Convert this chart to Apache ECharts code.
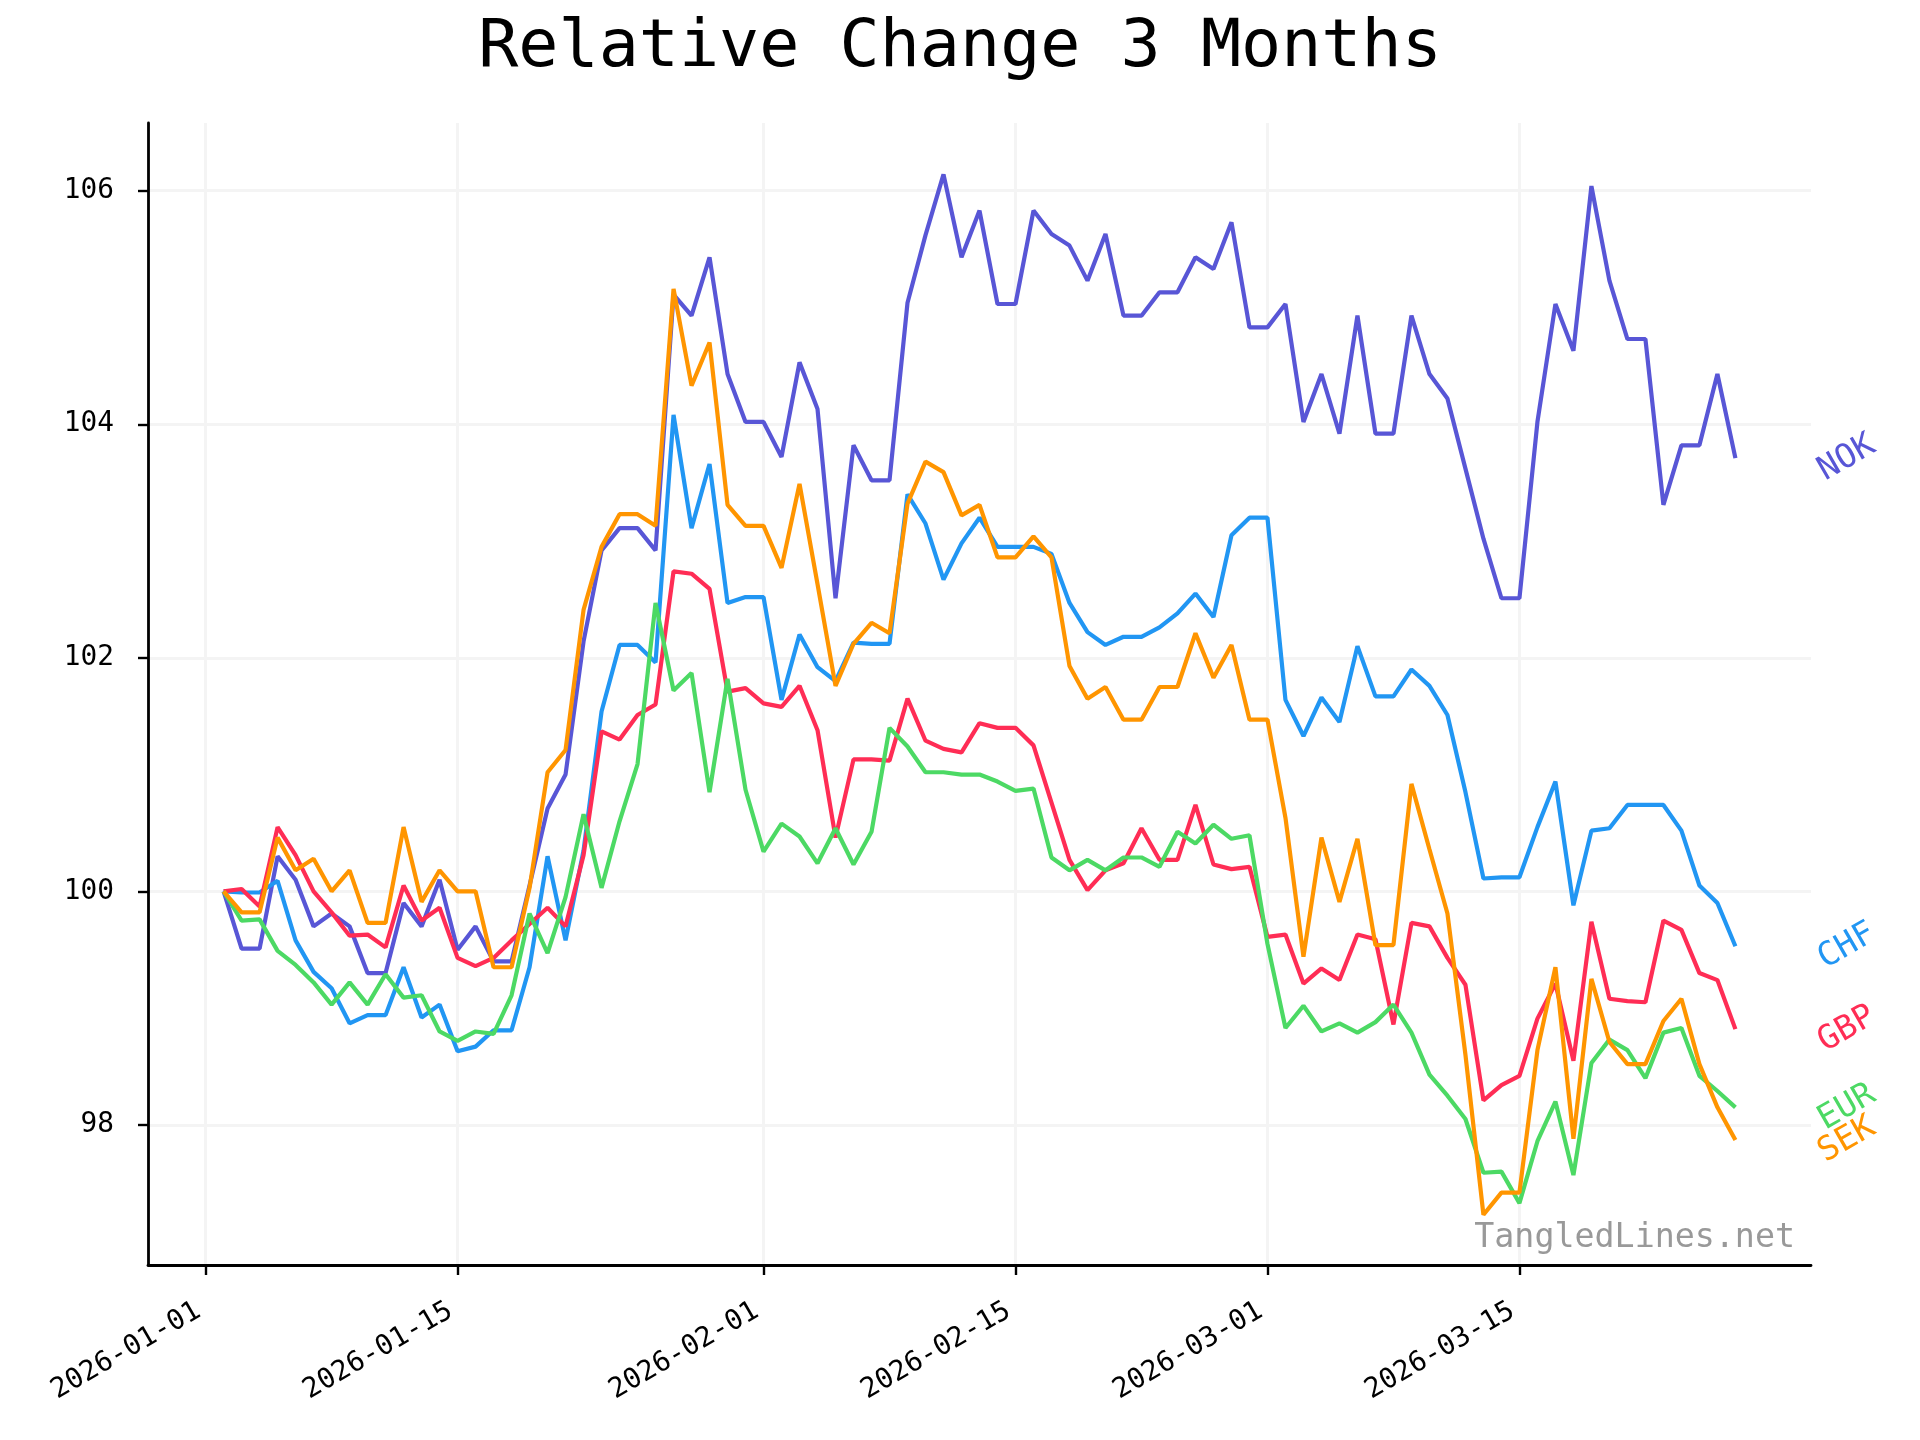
<!DOCTYPE html>
<html><head><meta charset="utf-8">
<script src="https://cdn.jsdelivr.net/npm/echarts@6/dist/echarts.min.js"></script>
<style>html,body{margin:0;padding:0;background:#fff}#c{width:1920px;height:1440px}</style>
</head><body><div id="c"></div><script>
const dates = [
'2026-01-02','2026-01-03','2026-01-04','2026-01-05','2026-01-06','2026-01-07','2026-01-08','2026-01-09','2026-01-10','2026-01-11',
'2026-01-12','2026-01-13','2026-01-14','2026-01-15','2026-01-16','2026-01-17','2026-01-18','2026-01-19','2026-01-20','2026-01-21',
'2026-01-22','2026-01-23','2026-01-24','2026-01-25','2026-01-26','2026-01-27','2026-01-28','2026-01-29','2026-01-30','2026-01-31',
'2026-02-01','2026-02-02','2026-02-03','2026-02-04','2026-02-05','2026-02-06','2026-02-07','2026-02-08','2026-02-09','2026-02-10',
'2026-02-11','2026-02-12','2026-02-13','2026-02-14','2026-02-15','2026-02-16','2026-02-17','2026-02-18','2026-02-19','2026-02-20',
'2026-02-21','2026-02-22','2026-02-23','2026-02-24','2026-02-25','2026-02-26','2026-02-27','2026-02-28','2026-03-01','2026-03-02',
'2026-03-03','2026-03-04','2026-03-05','2026-03-06','2026-03-07','2026-03-08','2026-03-09','2026-03-10','2026-03-11','2026-03-12',
'2026-03-13','2026-03-14','2026-03-15','2026-03-16','2026-03-17','2026-03-18','2026-03-19','2026-03-20','2026-03-21','2026-03-22',
'2026-03-23','2026-03-24','2026-03-25','2026-03-26','2026-03-27'];

const nok = [100.00,99.51,99.51,100.30,100.10,99.70,99.81,99.70,99.30,99.30,
99.90,99.70,100.10,99.50,99.70,99.40,99.40,100.05,100.71,101.00,
102.14,102.92,103.11,103.11,102.92,105.11,104.93,105.43,104.43,104.02,
104.02,103.72,104.53,104.13,102.51,103.82,103.52,103.52,105.04,105.62,
106.14,105.43,105.83,105.03,105.03,105.83,105.63,105.53,105.23,105.63,
104.93,104.93,105.13,105.13,105.43,105.33,105.73,104.83,104.83,105.03,
104.02,104.43,103.92,104.93,103.92,103.92,104.93,104.43,104.22,103.62,
103.02,102.51,102.51,104.02,105.03,104.63,106.04,105.23,104.73,104.73,
103.31,103.82,103.82,104.43,103.71];

const chf = [100.00,99.99,99.99,100.09,99.58,99.31,99.17,98.87,98.94,98.94,
99.35,98.92,99.03,98.63,98.67,98.81,98.81,99.35,100.30,99.58,
100.35,101.54,102.11,102.11,101.96,104.08,103.11,103.66,102.47,102.52,
102.52,101.64,102.20,101.92,101.80,102.13,102.12,102.12,103.40,103.15,
102.67,102.98,103.20,102.95,102.95,102.95,102.89,102.47,102.22,102.11,
102.18,102.18,102.26,102.38,102.55,102.35,103.05,103.20,103.20,101.64,
101.33,101.66,101.45,102.10,101.67,101.67,101.90,101.76,101.51,100.85,
100.11,100.12,100.12,100.55,100.94,99.88,100.52,100.54,100.74,100.74,
100.74,100.52,100.05,99.90,99.53];

const gbp = [100.00,100.02,99.87,100.55,100.31,100.00,99.82,99.62,99.63,99.52,
100.05,99.75,99.86,99.43,99.36,99.43,99.58,99.72,99.86,99.70,
100.31,101.37,101.30,101.51,101.60,102.74,102.72,102.59,101.71,101.74,
101.61,101.58,101.76,101.38,100.46,101.13,101.13,101.12,101.65,101.29,
101.22,101.19,101.44,101.40,101.40,101.25,100.76,100.27,100.01,100.18,
100.24,100.54,100.27,100.27,100.74,100.23,100.19,100.21,99.61,99.63,
99.21,99.34,99.24,99.63,99.59,98.86,99.73,99.70,99.43,99.20,
98.21,98.34,98.42,98.91,99.21,98.55,99.74,99.08,99.06,99.05,
99.75,99.67,99.30,99.24,98.82];

const eur = [100.00,99.75,99.76,99.49,99.37,99.22,99.03,99.22,99.03,99.29,
99.09,99.11,98.80,98.72,98.80,98.78,99.11,99.81,99.47,99.95,
100.66,100.03,100.60,101.09,102.47,101.72,101.87,100.85,101.82,100.87,
100.34,100.58,100.47,100.24,100.54,100.23,100.51,101.40,101.24,101.02,
101.02,101.00,101.00,100.94,100.86,100.88,100.29,100.18,100.27,100.18,
100.29,100.29,100.21,100.51,100.41,100.57,100.45,100.48,99.55,98.83,
99.02,98.80,98.87,98.79,98.88,99.03,98.79,98.43,98.25,98.05,
97.59,97.60,97.33,97.86,98.20,97.57,98.53,98.73,98.64,98.40,
98.79,98.83,98.42,98.29,98.15];

const sek = [100.00,99.82,99.82,100.46,100.18,100.28,100.00,100.18,99.73,99.73,
100.55,99.91,100.18,100.00,100.00,99.35,99.35,100.03,101.02,101.21,
102.41,102.95,103.23,103.23,103.13,105.16,104.33,104.70,103.31,103.13,
103.13,102.77,103.49,102.63,101.76,102.12,102.30,102.21,103.32,103.68,
103.59,103.22,103.31,102.86,102.86,103.04,102.86,101.93,101.65,101.75,
101.47,101.47,101.75,101.75,102.21,101.83,102.11,101.47,101.47,100.63,
99.44,100.46,99.91,100.45,99.54,99.54,100.92,100.36,99.81,98.60,
97.23,97.42,97.42,98.64,99.35,97.88,99.25,98.71,98.52,98.52,
98.89,99.08,98.52,98.15,97.87];

const seriesNames = ['NOK','CHF','GBP','EUR','SEK'];
const seriesColors = ['#5856D6','#2196F3','#FF2D55','#4CD964','#FF9500'];
const seriesValues = [nok, chf, gbp, eur, sek];
const xTickLabels = ['2026-01-01','2026-01-15','2026-02-01','2026-02-15','2026-03-01','2026-03-15'];
const yTicks = [98,100,102,104,106];
const titleText = 'Relative Change 3 Months';
const watermark = 'TangledLines.net';

const FONT = 'DejaVu Sans Mono';
const DAY = 86400000;
function utc(s){ const p = s.split('-').map(Number); return Date.UTC(p[0], p[1]-1, p[2]); }
const x0 = utc('2026-01-01');
function dayOf(s){ return Math.round((utc(s) - x0) / DAY); }
function fmt(v){ const d = new Date(x0 + Math.round(v)*DAY); const m = d.getUTCMonth()+1, dd = d.getUTCDate();
  return d.getUTCFullYear() + '-' + (m<10?'0':'') + m + '-' + (dd<10?'0':'') + dd; }
const xTickVals = xTickLabels.map(dayOf);

const chart = echarts.init(document.getElementById('c'), null, {renderer:'canvas', width:1920, height:1440});
const option = {
  animation: false,
  backgroundColor: '#ffffff',
  title: [
    { text: titleText, left: 'center', top: 10,
      textStyle: { fontFamily: FONT, fontSize: 66.7, fontWeight: 'normal', color: '#000' } },
    { text: watermark, right: 120, top: 1217,
      textStyle: { fontFamily: FONT, fontSize: 33.3, fontWeight: 'normal', color: '#999999' } }
  ],
  grid: { left: 148, right: 109, top: 123, bottom: 175, containLabel: false },
  xAxis: {
    type: 'value', min: -3.2, max: 89.2,
    axisLine: { show: true, onZero: false, lineStyle: { color: '#000', width: 2.8 } },
    axisTick: { show: true, length: 10, lineStyle: { color: '#000', width: 2.4 }, customValues: xTickVals },
    axisLabel: { show: true, rotate: 30, margin: 40, padding: [0, 8, 0, 0], fontFamily: FONT, fontSize: 27.8, color: '#000',
      customValues: xTickVals, formatter: function(v){ return fmt(v); } },
    splitLine: { show: true, lineStyle: { color: '#f4f4f4', width: 3 } }
  },
  yAxis: {
    type: 'value', min: 96.80, max: 106.58,
    axisLine: { show: true, onZero: false, lineStyle: { color: '#000', width: 2.8 } },
    axisTick: { show: true, length: 10, lineStyle: { color: '#000', width: 2.4 }, customValues: yTicks },
    axisLabel: { show: true, margin: 34, fontFamily: FONT, fontSize: 27.8, color: '#000', customValues: yTicks },
    splitLine: { show: true, lineStyle: { color: '#f4f4f4', width: 3 } }
  },
  series: seriesNames.map(function(n, i){
    return {
      name: n, type: 'line', showSymbol: false, symbol: 'none',
      data: dates.map(function(d, j){ return [dayOf(d), seriesValues[i][j]]; }),
      lineStyle: { color: seriesColors[i], width: 4.2 },
      itemStyle: { color: seriesColors[i] },
      z: 2 + i
    };
  })
};
chart.setOption(option);

// end labels, positioned through the chart's own coordinate conversion
const labelDay = 91.2;
const graphics = seriesNames.map(function(n, i){
  const vals = seriesValues[i];
  const p = chart.convertToPixel({gridIndex:0}, [labelDay, vals[vals.length-1]]);
  return { type: 'text', x: p[0], y: p[1], rotation: Math.PI/6, z: 100,
    style: { text: n, fill: seriesColors[i], font: '33.3px "' + FONT + '"', align: 'center', verticalAlign: 'middle' } };
});
chart.setOption({ graphic: graphics });
</script></body></html>
